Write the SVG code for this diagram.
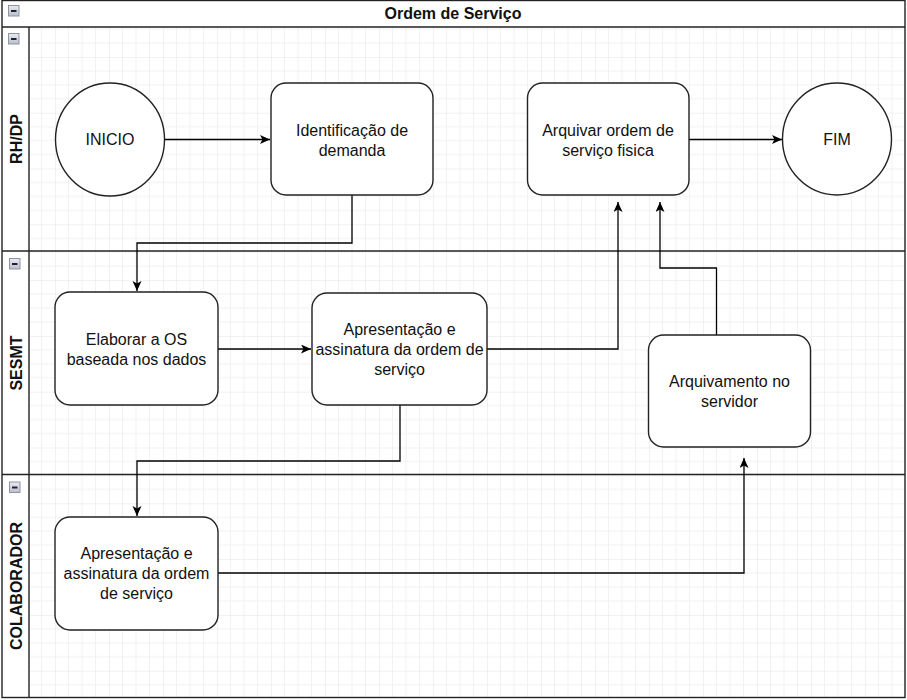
<svg xmlns="http://www.w3.org/2000/svg" width="907" height="700" viewBox="0 0 907 700">
<defs>
<pattern id="grid" patternUnits="userSpaceOnUse" x="1" y="1.1" width="54" height="55.8">
<path d="M13.5 0V55.8M27 0V55.8M40.5 0V55.8M0 13.95H54M0 27.9H54M0 41.85H54" stroke="#f2f2f2" stroke-width="1" fill="none"/>
<path d="M0 0V55.8M0 0H54" stroke="#e4e4e4" stroke-width="1" fill="none"/>
</pattern>
<marker id="arr" markerUnits="userSpaceOnUse" markerWidth="12" markerHeight="10" refX="10" refY="4.5" orient="auto">
<path d="M0 0L10 4.5L0 9L2.5 4.5Z" fill="#000"/>
</marker>
<linearGradient id="ig" x1="0" y1="0" x2="0" y2="1">
<stop offset="0" stop-color="#e8ebf2"/>
<stop offset="1" stop-color="#b9bfcc"/>
</linearGradient>
</defs>
<style>
.t{font-family:"Liberation Sans",Arial,sans-serif;font-size:16px;fill:#111;text-anchor:middle}
.b{font-weight:bold}
.n{fill:#fff;stroke:#222;stroke-width:1.4}
.ln{stroke:#222;stroke-width:1.4;fill:none}
.c{stroke:#000;stroke-width:1.3;fill:none}
.ic{fill:url(#ig);stroke:#8e94a3;stroke-width:1}
</style>
<rect x="0" y="0" width="907" height="700" fill="#fff"/>
<g id="pool">
<rect x="29" y="27" width="876" height="670" fill="url(#grid)"/>
<rect x="2" y="0.5" width="903" height="697" class="ln"/>
<line x1="2" y1="27" x2="905" y2="27" class="ln"/>
<line x1="2" y1="251" x2="905" y2="251" class="ln"/>
<line x1="2" y1="474.5" x2="905" y2="474.5" class="ln"/>
<line x1="29" y1="27" x2="29" y2="697" class="ln"/>
<text class="t b" x="453" y="19">Ordem de Serviço</text>
<g id="icons">
<rect x="8.5" y="5.5" width="10.5" height="10.5" class="ic"/><line x1="11" y1="11" x2="16.5" y2="11" stroke="#222" stroke-width="2"/>
<rect x="8.5" y="33.5" width="10.5" height="10.5" class="ic"/><line x1="11" y1="39" x2="16.5" y2="39" stroke="#222" stroke-width="2"/>
<rect x="9.5" y="258.5" width="10.5" height="10.5" class="ic"/><line x1="12" y1="264" x2="17.5" y2="264" stroke="#222" stroke-width="2"/>
<rect x="9.5" y="482" width="10.5" height="10.5" class="ic"/><line x1="12" y1="487.5" x2="17.5" y2="487.5" stroke="#222" stroke-width="2"/>
</g>
<text class="t b" transform="translate(21.5,139) rotate(-90)">RH/DP</text>
<text class="t b" transform="translate(21.5,363) rotate(-90)">SESMT</text>
<text class="t b" transform="translate(21.5,586) rotate(-90)">COLABORADOR</text>
</g>
<g id="connectors">
<path class="c" d="M165 139.5H270" marker-end="url(#arr)"/>
<path class="c" d="M352 195V243H137V291" marker-end="url(#arr)"/>
<path class="c" d="M218 349H311" marker-end="url(#arr)"/>
<path class="c" d="M487 349H618V202" marker-end="url(#arr)"/>
<path class="c" d="M716.5 335V268H660V202" marker-end="url(#arr)"/>
<path class="c" d="M400 405V461H137V516" marker-end="url(#arr)"/>
<path class="c" d="M218 573H744V458" marker-end="url(#arr)"/>
<path class="c" d="M689 139.5H782" marker-end="url(#arr)"/>
</g>
<g id="inicio"><ellipse class="n" cx="110" cy="139.5" rx="54.5" ry="56.5"/><text class="t" x="110" y="145">INICIO</text></g>
<g id="identificacao"><rect class="n" x="271" y="83" width="162" height="112" rx="15"/><text class="t" x="352" y="135.5">Identificação de</text><text class="t" x="352" y="155.5">demanda</text></g>
<g id="arquivar"><rect class="n" x="527.5" y="83" width="161.5" height="112" rx="15"/><text class="t" x="608" y="135.5">Arquivar ordem de</text><text class="t" x="608" y="155.5">serviço fisica</text></g>
<g id="fim"><ellipse class="n" cx="837" cy="139" rx="54.5" ry="56"/><text class="t" x="837" y="144.5">FIM</text></g>
<g id="elaborar"><rect class="n" x="55" y="292" width="163" height="113" rx="15"/><text class="t" x="136.5" y="344.5">Elaborar a OS</text><text class="t" x="136.5" y="364.5">baseada nos dados</text></g>
<g id="apresentacao-sesmt"><rect class="n" x="312" y="293" width="175" height="112" rx="15"/><text class="t" x="399.5" y="335">Apresentação e</text><text class="t" x="399.5" y="355">assinatura da ordem de</text><text class="t" x="399.5" y="375">serviço</text></g>
<g id="arquivamento"><rect class="n" x="648.5" y="335" width="162" height="112" rx="15"/><text class="t" x="729.5" y="386.5">Arquivamento no</text><text class="t" x="729.5" y="406.5">servidor</text></g>
<g id="apresentacao-colab"><rect class="n" x="55" y="517" width="163" height="113" rx="15"/><text class="t" x="136.5" y="559">Apresentação e</text><text class="t" x="136.5" y="579">assinatura da ordem</text><text class="t" x="136.5" y="599">de serviço</text></g>
</svg>
